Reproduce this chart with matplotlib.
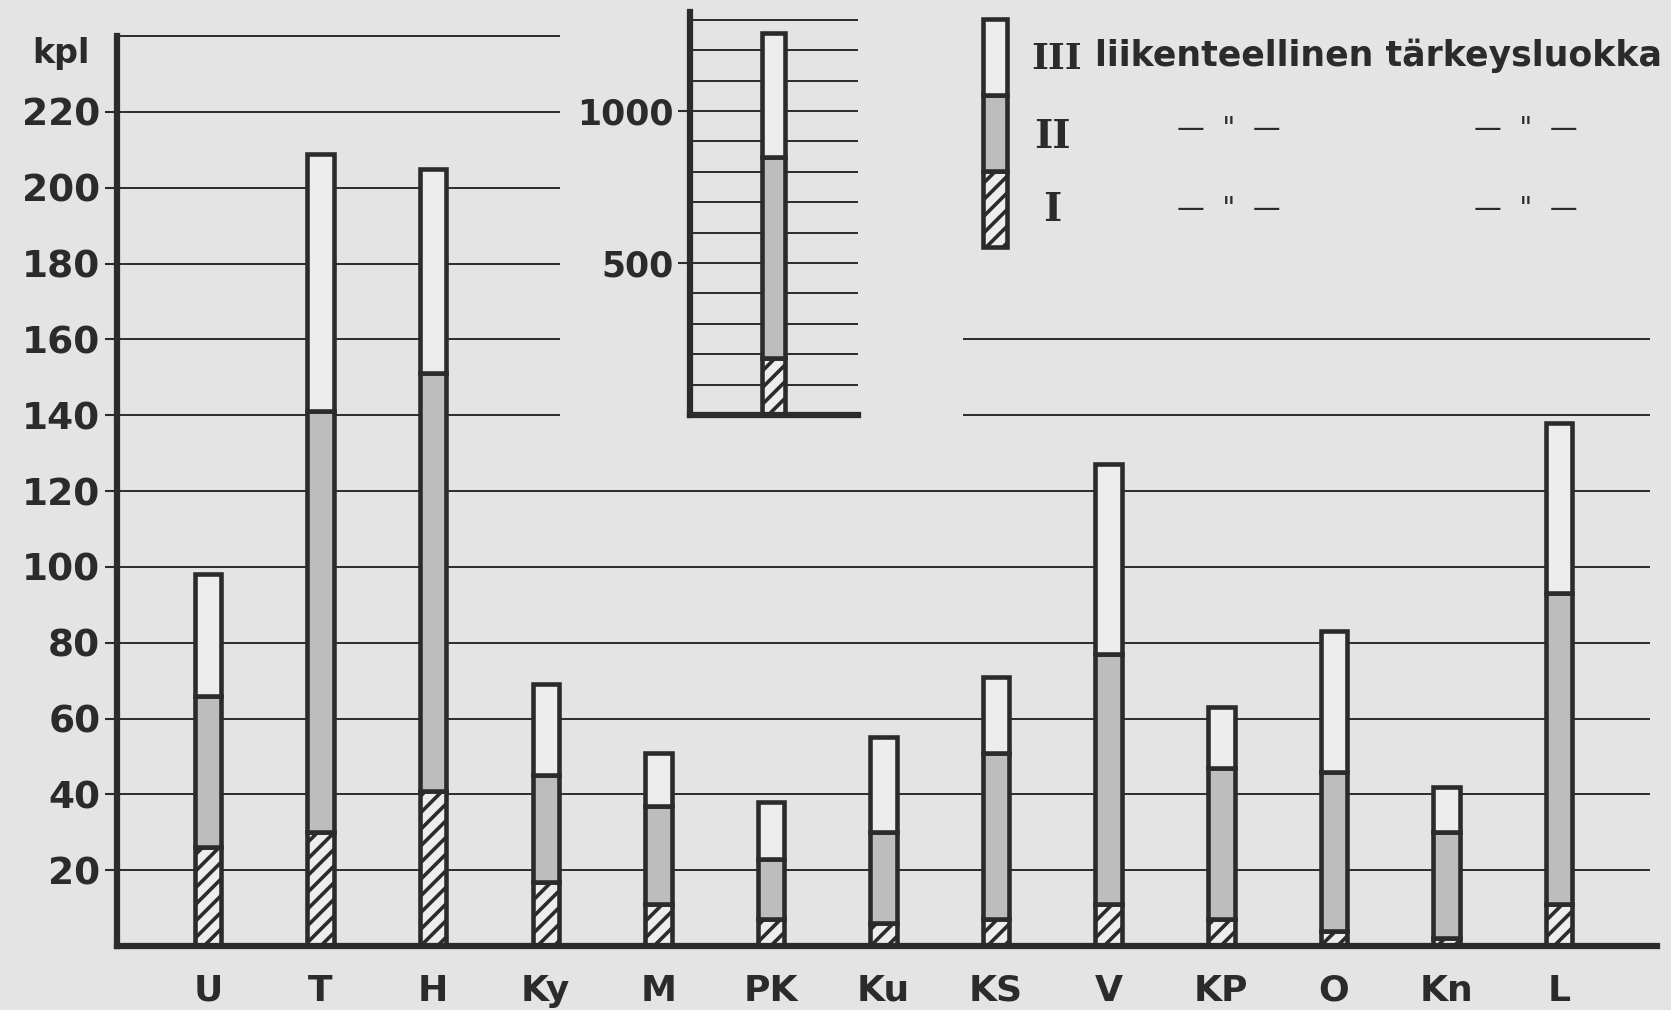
import matplotlib
matplotlib.use('Agg')
import matplotlib.pyplot as plt
import numpy as np

# data (kpl per district, by traffic importance class)
alueet = ['U', 'T', 'H', 'Ky', 'M', 'PK', 'Ku', 'KS', 'V', 'KP', 'O', 'Kn', 'L']
luokka_I = [26, 30, 41, 17, 11, 7, 6, 7, 11, 7, 4, 2, 11]
luokka_II = [40, 111, 110, 28, 26, 16, 24, 44, 66, 40, 42, 28, 82]
luokka_III = [32, 68, 54, 24, 14, 15, 25, 20, 50, 16, 37, 12, 45]

# inset: whole country
koko_I = 187
koko_II = 662
koko_III = 408

y_ticks = [20, 40, 60, 80, 100, 120, 140, 160, 180, 200, 220]
y_grid_full = [20, 40, 60, 80, 100, 120]
y_grid_left = [140, 160, 180, 200, 220, 240]
y_grid_right = [140, 160]
inset_ticks = [500, 1000]
inset_grid = [100, 200, 300, 400, 500, 600, 700, 800, 900, 1000, 1100, 1200, 1300]

W, H = 1671, 1010
ink = '#2b2b2b'
paper = '#e4e4e4'
light = '#ededed'
stipple = '#bdbdbd'

plt.rcParams['font.family'] = ['DejaVu Sans']
plt.rcParams['hatch.linewidth'] = 2.6
plt.rcParams['hatch.color'] = ink

fig = plt.figure(figsize=(W / 100, H / 100), dpi=100, facecolor=paper)


def px_box(x0, y0, x1, y1):
    # pixel box (top-left origin) -> figure fraction rect
    return [x0 / W, 1 - y1 / H, (x1 - x0) / W, (y1 - y0) / H]


def draw_stack(ax, x, a, b, c, width, lw):
    a = np.asarray(a); b = np.asarray(b); c = np.asarray(c)
    kw = dict(width=width, edgecolor=ink, linewidth=lw, zorder=3)
    ax.bar(x, a, color=light, hatch='//', **kw)
    ax.bar(x, b, bottom=a, color=stipple, **kw)
    ax.bar(x, c, bottom=a + b, color=light, **kw)


## main chart
ax = fig.add_axes(px_box(117, 36, 1657, 946))
ax.set_facecolor('none')
x = np.arange(len(alueet))
ax.set_xlim(-0.808, 12.87)
ax.set_ylim(0, 240)

ax.hlines(y_grid_full, -0.808, 12.81, color=ink, lw=1.4, zorder=1)
ax.hlines(y_grid_left, -0.808, 3.13, color=ink, lw=1.4, zorder=1, clip_on=False)
ax.hlines(y_grid_right, 6.71, 12.81, color=ink, lw=1.4, zorder=1)

draw_stack(ax, x, luokka_I, luokka_II, luokka_III, 0.235, 3.3)

for s in ['top', 'right']:
    ax.spines[s].set_visible(False)
for s in ['left', 'bottom']:
    ax.spines[s].set_linewidth(4.5)
    ax.spines[s].set_color(ink)
    ax.spines[s].set_zorder(4)

ax.set_yticks(y_ticks)
ax.set_yticklabels([str(v) for v in y_ticks], fontsize=27, fontweight='bold', color=ink)
ax.tick_params(axis='y', length=9, width=1.5, pad=3, color=ink)
ax.set_xticks(x)
ax.set_xticklabels(alueet, fontsize=26, fontweight='bold', color=ink)
ax.tick_params(axis='x', length=0, pad=20)

fig.text(61 / W, 1 - 53 / H, 'kpl', fontsize=24, fontweight='bold', color=ink,
         ha='center', va='center')

## inset: whole country
ax2 = fig.add_axes(px_box(690, 12, 858, 415))
ax2.set_facecolor(paper)
ax2.set_xlim(0, 1)
ax2.set_ylim(0, 1326)
ax2.hlines(inset_grid, 0, 1, color=ink, lw=1.4, zorder=1)
draw_stack(ax2, [0.497], [koko_I], [koko_II], [koko_III], 0.14, 3.3)
for s in ['top', 'right']:
    ax2.spines[s].set_visible(False)
for s in ['left', 'bottom']:
    ax2.spines[s].set_linewidth(4.5)
    ax2.spines[s].set_color(ink)
    ax2.spines[s].set_zorder(4)
ax2.set_xticks([])
ax2.set_yticks(inset_ticks)
ax2.set_yticklabels([str(v) for v in inset_ticks], fontsize=25, fontweight='bold', color=ink)
ax2.tick_params(axis='y', length=9, width=1.5, pad=3, color=ink)

## legend
axl = fig.add_axes(px_box(975, 19, 1015, 247))
axl.set_xlim(0, 1)
axl.set_ylim(0, 3)
axl.axis('off')
for k, (hatch, col) in enumerate([('//', light), ('', stipple), ('', light)]):
    axl.bar(0.5, 1, bottom=k, width=0.62, color=col, hatch=hatch,
            edgecolor=ink, linewidth=3.3, clip_on=False)

fig.text(1057 / W, 1 - 59 / H, 'III', fontsize=26, fontweight='bold', color=ink,
         family=['DejaVu Serif'], ha='center', va='center')
fig.text(1095 / W, 1 - 56 / H, 'liikenteellinen tärkeysluokka', fontsize=25,
         fontweight='bold', color=ink, ha='left', va='center')
fig.text(1052 / W, 1 - 137 / H, 'II', fontsize=28, fontweight='bold', color=ink,
         family=['DejaVu Serif'], ha='center', va='center')
fig.text(1052 / W, 1 - 210 / H, 'I', fontsize=28, fontweight='bold', color=ink,
         family=['DejaVu Serif'], ha='center', va='center')
for yy in [129, 209]:
    for xx in [1229, 1526]:
        fig.text(xx / W, 1 - yy / H, '—  "  —', fontsize=20, fontweight='normal',
                 color=ink, ha='center', va='center')

fig.savefig('out.png', dpi=100, facecolor=paper)
